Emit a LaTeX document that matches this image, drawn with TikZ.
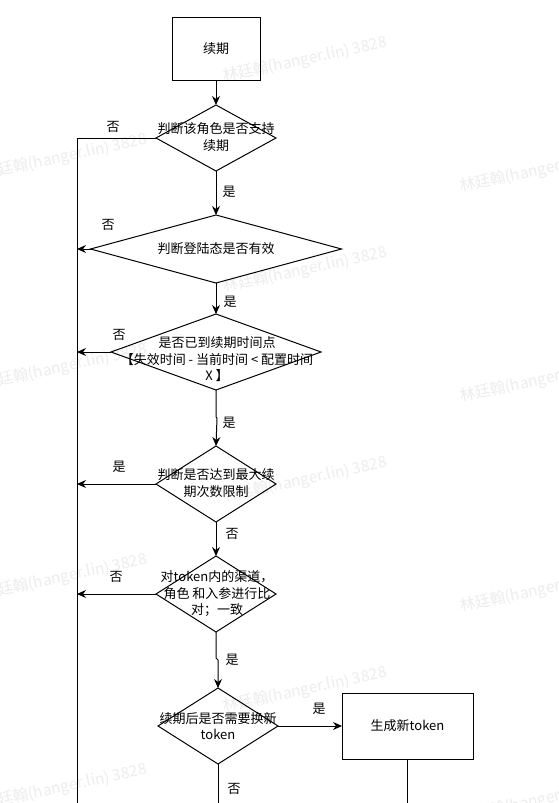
\documentclass[tikz,border=0pt]{standalone}
\usepackage{fontspec}
\newfontfamily\cjk{Noto Sans CJK SC}
\usetikzlibrary{shapes.geometric,arrows.meta}
\tikzset{
  wm/.style={text=black!7, font=\cjk\fontsize{15.5}{16}\selectfont, rotate=12, inner sep=0},
  txt/.style={align=center, font=\cjk\fontsize{13}{16.5}\selectfont, inner sep=0},
  proc/.style={draw, line width=1pt, inner sep=0, outer sep=0, font=\cjk\fontsize{13}{16.5}\selectfont},
  dec/.style={diamond, draw, line width=1pt, inner sep=0, outer sep=0},
  conn/.style={line width=1pt},
  arr/.style={line width=1pt, -{Stealth[length=9pt,width=8pt,inset=3pt]}},
  lbl/.style={font=\cjk\fontsize{13}{16.5}\selectfont, inner sep=0}
}
\begin{document}
\begin{tikzpicture}[x=1pt,y=-1pt]
\useasboundingbox[fill=white] (0,0) rectangle (559,803);
% watermark
\foreach \i/\cx/\cy in {1/305/60, 2/305/270, 3/305/480, 4/305/690,
                        5/65/157, 6/65/367, 7/65/577, 8/65/787,
                        9/542/170, 10/542/380, 11/542/590, 12/542/800}{
  \node[wm] (wm\i) at (\cx,\cy) {林廷翰(hanger.lin) 3828};
}
% nodes
\node[proc, minimum width=88, minimum height=63] (b1) at (216,48.5) {续期};
\node[dec, minimum width=120, minimum height=66] (d1) at (216,138) {};
\node[txt] (t1) at (216,137) {判断该角色是否支持\\续期};
\node[dec, minimum width=251, minimum height=68] (d2) at (216,249) {};
\node[txt] (t2) at (216,249) {判断登陆态是否有效};
\node[dec, minimum width=210, minimum height=76] (d3) at (216,352) {};
\node[txt] (t3) at (217,359.5) {是否已到续期时间点\\【失效时间 - 当前时间 < 配置时间\\X 】};
\node[dec, minimum width=120, minimum height=76] (d4) at (216,484) {};
\node[txt] (t4) at (216,483) {判断是否达到最大续\\期次数限制};
\node[dec, minimum width=120, minimum height=76] (d5) at (216,594) {};
\node[txt] (t5) at (217,594) {对token内的渠道，\\角色 和入参进行比\\对；一致};
\node[dec, minimum width=120, minimum height=76] (d6) at (218,726) {};
\node[txt] (t6) at (218,726) {续期后是否需要换新\\token};
\node[proc, minimum width=131, minimum height=66] (b2) at (407.5,726) {生成新token};
% free ends
\coordinate (L) at (77,138);
\coordinate (Lend) at (77,803);
\coordinate (E6) at (218,803);
\coordinate (E7) at (407.5,803);
% connectors
\draw[arr] (b1) -- (d1);
\draw[conn] (d1.west) -- (L) -- (Lend);
\draw[arr] (d1) -- (d2);
\draw[arr] (d2.west) -- (d2.west -| L);
\draw[arr] (d2) -- (d3);
\draw[arr] (d3.west) -- (d3.west -| L);
\draw[arr] (d3.south) -- ++(0,27) -- ++(1,1) -- (d4.north);
\draw[arr] (d4.west) -- (d4.west -| L);
\draw[arr] (d4) -- (d5);
\draw[arr] (d5.west) -- (d5.west -| L);
\draw[arr] (d5.south) -- ++(0,26) -- ++(2,2) -- (d6.north);
\draw[arr] (d6.east) -- (b2.west);
\draw[conn] (d6.south) -- (E6);
\draw[conn] (b2.south) -- (E7);
% labels
\node[lbl] (l1) at (113,127) {否};
\node[lbl] (l2) at (229,192) {是};
\node[lbl] (l3) at (108,225) {否};
\node[lbl] (l4) at (230,302) {是};
\node[lbl] (l5) at (119,335) {否};
\node[lbl] (l6) at (229,423) {是};
\node[lbl] (l7) at (119,467) {是};
\node[lbl] (l8) at (232,534) {否};
\node[lbl] (l9) at (116,577) {否};
\node[lbl] (l10) at (232,660) {是};
\node[lbl] (l11) at (319,709) {是};
\node[lbl] (l12) at (234,789) {否};
\end{tikzpicture}
\end{document}
